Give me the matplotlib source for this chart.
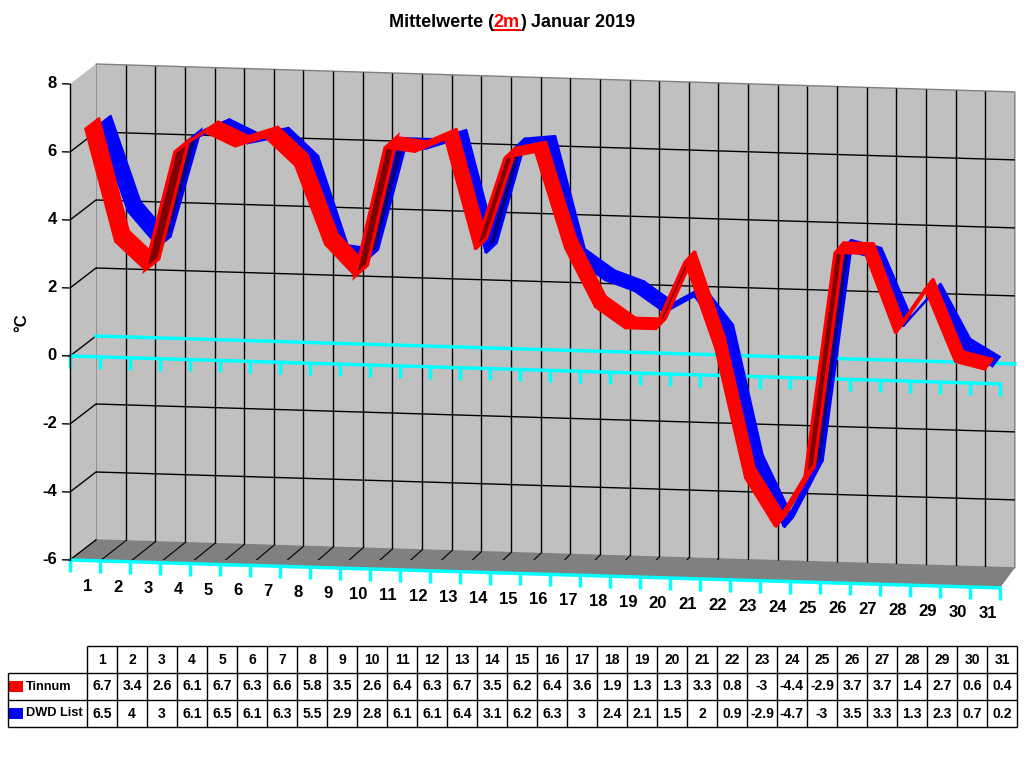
import matplotlib
matplotlib.use("Agg")
import matplotlib.pyplot as plt
import matplotlib.transforms as mtransforms
from matplotlib.patches import Polygon, Rectangle
from matplotlib.lines import Line2D
import numpy as np

plt.rcParams['font.family'] = ['Liberation Sans', 'DejaVu Sans']

# Daten (Tagesmittel Januar 2019)
tage = list(range(1, 32))
tinnum = [6.7, 3.4, 2.6, 6.1, 6.7, 6.3, 6.6, 5.8, 3.5, 2.6, 6.4, 6.3, 6.7, 3.5, 6.2, 6.4,
          3.6, 1.9, 1.3, 1.3, 3.3, 0.8, -3, -4.4, -2.9, 3.7, 3.7, 1.4, 2.7, 0.6, 0.4]
dwd_list = [6.5, 4, 3, 6.1, 6.5, 6.1, 6.3, 5.5, 2.9, 2.8, 6.1, 6.1, 6.4, 3.1, 6.2, 6.3,
            3, 2.4, 2.1, 1.5, 2, 0.9, -2.9, -4.7, -3, 3.5, 3.3, 1.3, 2.3, 0.7, 0.2]
y_ticks = [-6, -4, -2, 0, 2, 4, 6, 8]
serien = ["Tinnum", "DWD List"]
farben = ["#ff0000", "#0000ff"]
dunkel = ["#800000", "#000080"]

W, H = 1024, 768
fig = plt.figure(figsize=(W / 100, H / 100), dpi=100)

X0 = 70
ax = fig.add_axes([X0 / W, 208 / H, 930 / W, 476 / H])
ax.set_xlim(0.5, 31.5)
ax.set_ylim(-6, 8)
ax.axis('off')

# Pseudo-3D: Neigung nach rechts unten und Tiefenversatz
NEIGUNG = 0.030
TIEFE_X, TIEFE_Y, TIEFE_K = 26, 20, 0.012
PIX = mtransforms.IdentityTransform()


def tiefe(d):
    return ax.transData + mtransforms.Affine2D().translate(-X0, 0) \
        .skew(0, np.arctan(-NEIGUNG)).scale(1 - d * TIEFE_K, 1) \
        .translate(X0 + d * TIEFE_X, d * TIEFE_Y)


def punkte(xs, ys, d):
    return tiefe(d).transform(np.column_stack([xs, ys]))


grenzen = np.arange(0.5, 32, 1.0)
grau = '#c0c0c0'

# Rueckwand
ax.add_patch(Rectangle((0.5, -6), 31, 14, transform=tiefe(1), fc=grau,
                       ec='#808080', lw=1, clip_on=False, zorder=1))
ax.vlines(grenzen[1:-1], -6, 8, transform=tiefe(1), color='black', lw=1,
          clip_on=False, zorder=2)
ax.hlines(y_ticks[1:-1], 0.5, 31.5, transform=tiefe(1), color='black', lw=1,
          clip_on=False, zorder=2)

# linke Wand
links = np.vstack([punkte([0.5, 0.5], [-6, 8], 0), punkte([0.5, 0.5], [8, -6], 1)])
ax.add_patch(Polygon(links, closed=True, transform=PIX, fc=grau, ec='none',
                     clip_on=False, zorder=1))
for v in y_ticks:
    seg = np.vstack([punkte([0.5], [v], 0), punkte([0.5], [v], 1)])
    ax.add_line(Line2D(seg[:, 0], seg[:, 1], transform=PIX,
                       color='#808080' if v == 8 else 'black', lw=1, zorder=2))

# Boden
boden = np.vstack([punkte([0.5, 31.5], [-6, -6], 0), punkte([31.5, 0.5], [-6, -6], 1)])
ax.add_patch(Polygon(boden, closed=True, transform=PIX, fc='#808080', ec='none',
                     clip_on=False, zorder=2))
for g in grenzen:
    seg = np.vstack([punkte([g], [-6], 0), punkte([g], [-6], 1)])
    ax.add_line(Line2D(seg[:, 0], seg[:, 1], transform=PIX, color='black', lw=0.8, zorder=3))

# Nulllinien und Kategorieachse (cyan)
cyan = '#00ffff'
ax.plot([0.5, 31.5], [0, 0], transform=tiefe(1), color=cyan, lw=2.5, clip_on=False, zorder=3)
ax.plot([0.5, 31.5], [0, 0], transform=tiefe(0), color=cyan, lw=2.5, clip_on=False, zorder=3)
ax.vlines(grenzen, -0.35, 0, transform=tiefe(0), color=cyan, lw=2.5, clip_on=False, zorder=3)
ax.plot([0.5, 31.5], [-6, -6], transform=tiefe(0), color=cyan, lw=2.5, clip_on=False, zorder=4)
ax.vlines(grenzen, -6.35, -6, transform=tiefe(0), color=cyan, lw=2.5, clip_on=False, zorder=4)

# Werteachse
ax.plot([0.5, 0.5], [-6, 8], transform=tiefe(0), color='black', lw=1, clip_on=False, zorder=4)
ax.hlines(y_ticks, 0.5 - 8 / 30, 0.5, transform=tiefe(0), color='black', lw=1,
          clip_on=False, zorder=4)
for v in y_ticks:
    ax.text(0.5 - 13 / 30, v, str(v), transform=tiefe(0), ha='right', va='center',
            fontsize=12, fontweight='bold')

lab_trans = mtransforms.offset_copy(tiefe(0), fig=fig, x=3, y=-26, units='dots')
for t in tage:
    ax.text(t, -6, str(t), transform=lab_trans, ha='center', va='center',
            fontsize=12, fontweight='bold')

fig.text(22 / W, 1 - 323 / H, '°C', rotation=90, ha='center', va='center',
         fontsize=12, fontweight='bold')


# Baender
def band(werte, d1, d2, farbe, dfarbe, z):
    vorne = punkte(tage, werte, d1)
    hinten = punkte(tage, werte, d2)
    for i in range(len(tage) - 1):
        quad = [vorne[i], vorne[i + 1], hinten[i + 1], hinten[i]]
        sx, sy = vorne[i + 1] - vorne[i]
        tx, ty = hinten[i] - vorne[i]
        unten = sx * ty - sy * tx < 0
        ax.add_patch(Polygon(quad, closed=True, transform=PIX,
                             fc=dfarbe if unten else farbe, ec=farbe,
                             lw=2.4 if unten else 1.2, joinstyle='miter',
                             clip_on=False, zorder=z))


band(dwd_list, 0.5, 1.0, farben[1], dunkel[1], 5)
band(tinnum, 0.0, 0.55, farben[0], dunkel[0], 6)

# Titel
renderer = fig.canvas.get_renderer()
teile = [("Mittelwerte (", 'black'), ("2m", 'red'), (") Januar 2019", 'black')]
texte = [fig.text(0, 0, s, color=c, fontsize=13, fontweight='bold', va='baseline')
         for s, c in teile]
breiten = [t.get_window_extent(renderer).width for t in texte]
x = W / 2 - sum(breiten) / 2
basis = H - 27
for t, b in zip(texte, breiten):
    t.set_position((x / W, basis / H))
    if t.get_color() == 'red':
        fig.add_artist(Line2D([x / W, (x + b) / W], [(basis - 3) / H] * 2,
                              color='red', lw=1.5))
    x += b

# Tabelle (Spalten = Tage, Zeilen = Kopf + Serien)
LABEL_B = 79 / 30
tab_ax = fig.add_axes([8 / W, 1 - 727 / H, 1009 / W, 81 / H])
tab_ax.set_xlim(-LABEL_B, 31)
tab_ax.set_ylim(3, 0)
tab_ax.axis('off')
tab_ax.hlines(0, 0, 31, color='black', lw=1, clip_on=False)
tab_ax.hlines([1, 2, 3], -LABEL_B, 31, color='black', lw=1, clip_on=False)
tab_ax.vlines(np.arange(0, 32), 0, 3, color='black', lw=1, clip_on=False)
tab_ax.vlines(-LABEL_B, 1, 3, color='black', lw=1, clip_on=False)

for c, t in enumerate(tage):
    tab_ax.text(c + 0.5, 0.5, str(t), ha='center', va='center', fontsize=10,
                fontweight='bold')
for r, werte in enumerate([tinnum, dwd_list], start=1):
    for c, v in enumerate(werte):
        tab_ax.text(c + 0.5, r + 0.5, f"{v:g}", ha='center', va='center', fontsize=10,
                    fontweight='bold')

for r, (name, farbe) in enumerate(zip(serien, farben), start=1):
    tab_ax.add_patch(Rectangle((-LABEL_B + 1 / 30, r + 0.5 - 0.21), 14 / 30, 0.42,
                               fc=farbe, ec='none', clip_on=False))
    tab_ax.text(-LABEL_B + 18 / 30, r + 0.5, name, ha='left', va='center', fontsize=9.2,
                fontweight='bold')

fig.savefig('out.png', dpi=100)
